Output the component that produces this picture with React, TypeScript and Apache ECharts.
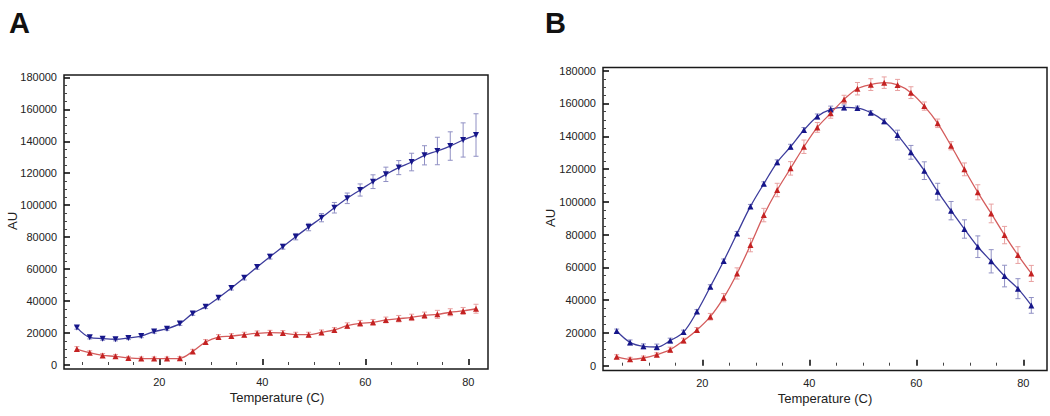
import React, { useEffect, useRef } from "react";
import * as echarts from "echarts";

const temps = [4, 6.5, 9, 11.5, 14, 16.5, 19, 21.5, 24, 26.5, 29, 31.5, 34, 36.5, 39, 41.5, 44, 46.5, 49, 51.5, 54, 56.5, 59, 61.5, 64, 66.5, 69, 71.5, 74, 76.5, 79, 81.5];

const aBlue = [23400, 17300, 16500, 16100, 16900, 18100, 20900, 22700, 25900, 32300, 36500, 42100, 48200, 54600, 61300, 67800, 74000, 80300, 86300, 92200, 98400, 104300, 109500, 114700, 119300, 123500, 127000, 131200, 133900, 137000, 140800, 143900];
const aBlueErr = [1000, 1000, 1000, 1000, 1000, 1000, 1000, 1000, 1100, 1200, 1200, 1300, 1300, 1400, 1400, 1500, 1500, 2000, 2300, 2600, 3300, 3300, 3800, 4300, 4500, 4400, 5500, 6000, 8600, 8900, 10700, 13300];
const aRed = [10000, 7700, 6000, 5400, 4400, 4000, 4000, 4000, 4200, 8500, 14400, 17500, 18100, 19000, 19800, 20200, 20000, 19000, 19000, 20400, 21900, 24600, 26100, 26700, 28200, 29000, 29800, 31100, 31700, 33000, 33800, 35200];
const aRedErr = [1500, 1200, 1200, 1200, 1000, 1000, 1000, 1000, 1000, 1300, 1500, 1500, 1500, 1500, 1500, 1500, 1500, 1500, 1500, 1500, 1500, 1800, 1800, 1800, 1800, 2000, 2000, 2000, 2500, 2200, 2200, 2800];

const bBlue = [21150, 14200, 11800, 11400, 15300, 20500, 33000, 48200, 63900, 80700, 97200, 111000, 124100, 133600, 143800, 152100, 156400, 157600, 157200, 154400, 149100, 140700, 130200, 119000, 106200, 94600, 83400, 72600, 63700, 54700, 47000, 36800];
const bBlueErr = [1200, 1500, 1500, 1800, 1500, 1200, 1200, 1200, 1200, 1200, 1200, 1200, 1500, 1500, 1500, 1500, 2000, 1500, 1200, 1200, 1500, 3000, 4200, 5400, 5100, 5600, 5600, 6600, 7100, 6600, 6100, 4800];
const bRed = [5500, 3900, 4700, 6700, 9800, 15300, 21800, 29900, 41500, 56300, 73600, 91900, 107200, 120400, 133600, 145400, 154000, 162500, 169000, 171500, 172700, 171300, 166600, 158400, 147900, 134200, 119800, 105800, 92900, 79700, 67500, 56300];
const bRedErr = [1200, 1200, 1200, 1200, 1500, 1500, 1500, 2000, 2500, 3400, 4100, 4100, 4100, 4100, 4100, 3000, 3000, 2500, 3800, 3600, 3500, 3400, 3600, 2500, 2600, 2500, 3900, 4600, 5700, 5300, 5100, 4900];

const xTickLabels = [20, 40, 60, 80];
const yTickLabels = [0, 20000, 40000, 60000, 80000, 100000, 120000, 140000, 160000, 180000];
const xMinorStep = 5;
const yMinorStep = 5000;

function minorTicks(majors: number[], step: number, lo: number, hi: number) {
  const out: number[] = [];
  for (let v = Math.ceil(lo / step) * step; v <= hi; v += step) {
    if (!majors.includes(v)) out.push(v);
  }
  return out;
}

const BLUE_LINE = "#3c3c9c";
const BLUE_MARK = "#16168a";
const BLUE_ERR = "#9090c4";
const RED_LINE = "#d45c5c";
const RED_MARK = "#c42222";
const RED_ERR = "#e8a0a0";
const FONT = "Liberation Sans, Arial, sans-serif";

function errData(vals: number[], errs: number[]) {
  return temps.map((t, i) => [t, vals[i] - errs[i], vals[i] + errs[i]]);
}

function errSeries(vals: number[], errs: number[], color: string, gi: number) {
  return {
    type: "custom",
    xAxisIndex: gi * 2,
    yAxisIndex: gi * 2,
    data: errData(vals, errs),
    z: 2,
    silent: true,
    renderItem: (params: any, api: any) => {
      const x = api.value(0);
      const lo = api.coord([x, api.value(1)]);
      const hi = api.coord([x, api.value(2)]);
      const w = 2.5;
      const st = { stroke: color, lineWidth: 1 };
      return {
        type: "group",
        children: [
          { type: "line", shape: { x1: lo[0], y1: lo[1], x2: hi[0], y2: hi[1] }, style: st },
          { type: "line", shape: { x1: lo[0] - w, y1: lo[1], x2: lo[0] + w, y2: lo[1] }, style: st },
          { type: "line", shape: { x1: hi[0] - w, y1: hi[1], x2: hi[0] + w, y2: hi[1] }, style: st },
        ],
      };
    },
  };
}

function lineSeries(vals: number[], lineColor: string, markColor: string, gi: number, rotate: number) {
  return {
    type: "line",
    xAxisIndex: gi * 2,
    yAxisIndex: gi * 2,
    data: temps.map((t, i) => [t, vals[i]]),
    smooth: 0.35,
    symbol: "triangle",
    symbolSize: 6,
    symbolRotate: rotate,
    lineStyle: { color: lineColor, width: 1.3 },
    itemStyle: { color: markColor },
    z: 3,
  };
}

function makeAxes(gi: number, min: number, max: number, majors: number[], step: number, pos: string) {
  const minors = minorTicks(majors, step, min, max);
  return [
    {
      type: "value",
      gridIndex: gi,
      position: pos,
      min,
      max,
      axisLine: { show: false },
      axisTick: { show: true, inside: true, length: 6, customValues: majors, lineStyle: { color: "#111", width: 1.6 } },
      axisLabel: {
        show: true,
        margin: 7,
        fontSize: 11,
        color: "#222",
        fontFamily: FONT,
        customValues: majors,
        formatter: (v: number) => String(v),
      },
      splitLine: { show: false },
    },
    {
      type: "value",
      gridIndex: gi,
      position: pos,
      offset: 0,
      min,
      max,
      axisLine: { show: false },
      axisTick: { show: true, inside: true, length: 3, customValues: minors, lineStyle: { color: "#444", width: 1 } },
      axisLabel: { show: false },
      splitLine: { show: false },
    },
  ];
}

export default function App() {
  const ref = useRef<HTMLDivElement>(null);
  useEffect(() => {
    if (!ref.current) return;
    const chart = echarts.init(ref.current, null, { renderer: "svg" });
    const option: any = {
      animation: false,
      backgroundColor: "#ffffff",
      grid: [
        { left: 64, top: 75, width: 424, height: 294, show: true, borderColor: "#1a1a1a", borderWidth: 1.5, backgroundColor: "transparent" },
        { left: 603, top: 67.5, width: 444, height: 303, show: true, borderColor: "#1a1a1a", borderWidth: 1.5, backgroundColor: "transparent" },
      ],
      xAxis: [
        ...makeAxes(0, 1.5, 83.83, xTickLabels, xMinorStep, "bottom"),
        ...makeAxes(1, 1.44, 84.43, xTickLabels, xMinorStep, "bottom"),
      ],
      yAxis: [
        ...makeAxes(0, -2503, 181455, yTickLabels, yMinorStep, "left"),
        ...makeAxes(1, -2929, 181950, yTickLabels, yMinorStep, "left"),
      ],
      series: [
        errSeries(aBlue, aBlueErr, BLUE_ERR, 0),
        errSeries(aRed, aRedErr, RED_ERR, 0),
        lineSeries(aBlue, BLUE_LINE, BLUE_MARK, 0, 180),
        lineSeries(aRed, RED_LINE, RED_MARK, 0, 0),
        errSeries(bBlue, bBlueErr, BLUE_ERR, 1),
        errSeries(bRed, bRedErr, RED_ERR, 1),
        lineSeries(bBlue, BLUE_LINE, BLUE_MARK, 1, 0),
        lineSeries(bRed, RED_LINE, RED_MARK, 1, 0),
      ],
      graphic: [
        { type: "text", left: 9, top: 8, style: { text: "A", fontSize: 29, fontWeight: "bold", fontFamily: FONT, fill: "#111" } },
        { type: "text", left: 545, top: 8, style: { text: "B", fontSize: 29, fontWeight: "bold", fontFamily: FONT, fill: "#111" } },
        { type: "text", x: 12, y: 221, rotation: Math.PI / 2, style: { text: "AU", fontSize: 13, fontFamily: FONT, fill: "#222", align: "center", verticalAlign: "middle" } },
        { type: "text", x: 550, y: 218, rotation: Math.PI / 2, style: { text: "AU", fontSize: 13, fontFamily: FONT, fill: "#222", align: "center", verticalAlign: "middle" } },
        { type: "text", x: 277, y: 397, style: { text: "Temperature (C)", fontSize: 13, fontFamily: FONT, fill: "#222", align: "center", verticalAlign: "middle" } },
        { type: "text", x: 825, y: 398, style: { text: "Temperature (C)", fontSize: 13, fontFamily: FONT, fill: "#222", align: "center", verticalAlign: "middle" } },
      ],
    };
    chart.setOption(option);
    return () => chart.dispose();
  }, []);
  return <div ref={ref} style={{ position: "absolute", left: 0, top: 0, width: 1050, height: 416 }} />;
}
